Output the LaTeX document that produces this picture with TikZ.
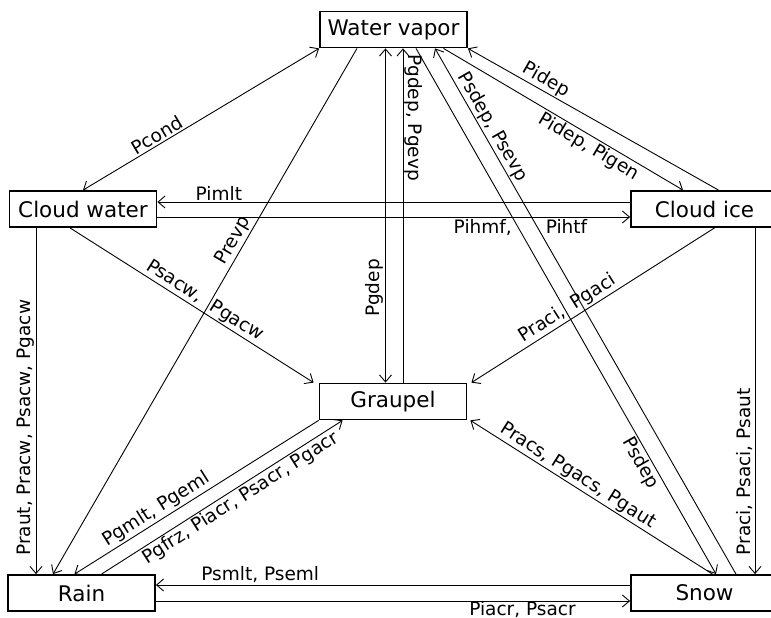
\documentclass[tikz,border=0pt]{standalone}
\usepackage{fontspec}
\setmainfont{DejaVu Sans}
\usetikzlibrary{arrows.meta}
\tikzset{
  box/.style={draw, line width=1.8pt, minimum width=147pt, minimum height=36pt, inner sep=0pt,
              font=\fontsize{21.5}{24}\selectfont},
  conn/.style={line width=0.9pt},
  lbl/.style={font=\fontsize{18.5}{20}\selectfont, inner sep=1.5pt},
  >={Straight Barb[length=7pt,width=12pt,line width=0.9pt]}
}
\begin{document}
\begin{tikzpicture}[x=1pt,y=-1pt]
\useasboundingbox (0,0) rectangle (771,618);
\fill[white] (0,0) rectangle (771,618);
% nodes
\node[box] (wv)   at (393.5,29.5) {Water vapor};
\node[box] (cw)   at (83,209)     {Cloud water};
\node[box] (ci)   at (704.5,209)  {Cloud ice};
\node[box] (gr)   at (393,401.5)  {Graupel};
\node[box] (rain) at (81.5,593)   {Rain};
\node[box] (snow) at (704.5,593)  {Snow};
% connectors
\draw[conn,<->] (wv.south west) -- node[lbl,sloped,above,pos=0.667] {Pcond} (cw.north);
\draw[conn,->] ([xshift=-36.5pt]wv.south) -- node[lbl,sloped,above,pos=0.376] {Prevp} ([xshift=-28.5pt]rain.north);
\draw[conn,<->] ([xshift=-7.5pt]gr.north) -- node[lbl,sloped,above,pos=0.283] {Pgdep} ([xshift=-7.5pt]gr.north |- wv.south);
\draw[conn,->] ([xshift=10pt]gr.north) -- node[lbl,rotate=-90,above,pos=0.793] {Pgdep, Pgevp} ([xshift=10pt]gr.north |- wv.south);
\draw[conn,->] ([xshift=22.5pt]wv.south) -- node[lbl,sloped,below,pos=0.779] {Psdep} ([xshift=11.5pt]snow.north);
\draw[conn,->] ([xshift=31.5pt]snow.north) -- node[lbl,sloped,above,pos=0.84] {Psdep, Psevp} ([xshift=41.5pt]wv.south);
\draw[conn,->] ([xshift=50pt]wv.south) -- node[lbl,sloped,below,pos=0.63] {Pidep, Pigen} ([xshift=-21.5pt]ci.north);
\draw[conn,->] ([xshift=14pt]ci.north) -- node[lbl,sloped,above,pos=0.71] {Pidep} (wv.south east);
\draw[conn,->] ([yshift=7pt]ci.west) -- node[lbl,above,pos=0.87] {Pimlt} ([yshift=7pt]ci.west -| cw.east);
\draw[conn,->] ([yshift=-8pt]cw.east) -- node[lbl,below,pos=0.768] {Pihmf,\hspace{34pt}Pihtf} ([yshift=-8pt]cw.east -| ci.west);
\draw[conn,->] ([xshift=-13pt]cw.south) -- node[lbl,sloped,above,pos=0.53] {Psacw,\ \ Pgacw} ([xshift=-5pt]gr.north west);
\draw[conn,->] ([xshift=10pt]ci.south) -- node[lbl,sloped,above,pos=0.58] {Praci,\hspace{10pt}Pgaci} ([xshift=4pt]gr.north east);
\draw[conn,->] ([xshift=8pt]snow.north) -- node[lbl,sloped,above,pos=0.58] {Pracs, Pgacs, Pgaut} ([xshift=3pt]gr.south east);
\draw[conn,->] ([xshift=-47pt]cw.south) -- node[lbl,rotate=90,above,pos=0.577] {Praut, Pracw, Psacw, Pgacw} ([xshift=-47pt]cw.south |- rain.north);
\draw[conn,->] ([xshift=50.5pt]ci.south) -- node[lbl,rotate=90,above,pos=0.705] {Praci, Psaci, Psaut} ([xshift=50.5pt]ci.south |- snow.north);
\draw[conn,->] (gr.south west) -- node[lbl,sloped,above,pos=0.64] {Pgmlt, Pgeml} ([xshift=-7pt]rain.north);
\draw[conn,->] ([xshift=20pt]rain.north) -- node[lbl,sloped,below,pos=0.553] {Pgfrz, Piacr, Psacr, Pgacr} ([xshift=24pt]gr.south west);
\draw[conn,->] ([yshift=8pt]snow.west) -- node[lbl,above,pos=0.78] {Psmlt, Pseml} ([yshift=8pt]snow.west -| rain.east);
\draw[conn,->] ([yshift=-8pt]rain.east) -- node[lbl,below,pos=0.773,inner sep=0.5pt,yshift=1pt] {Piacr, Psacr} ([yshift=-8pt]rain.east -| snow.west);
\end{tikzpicture}
\end{document}
